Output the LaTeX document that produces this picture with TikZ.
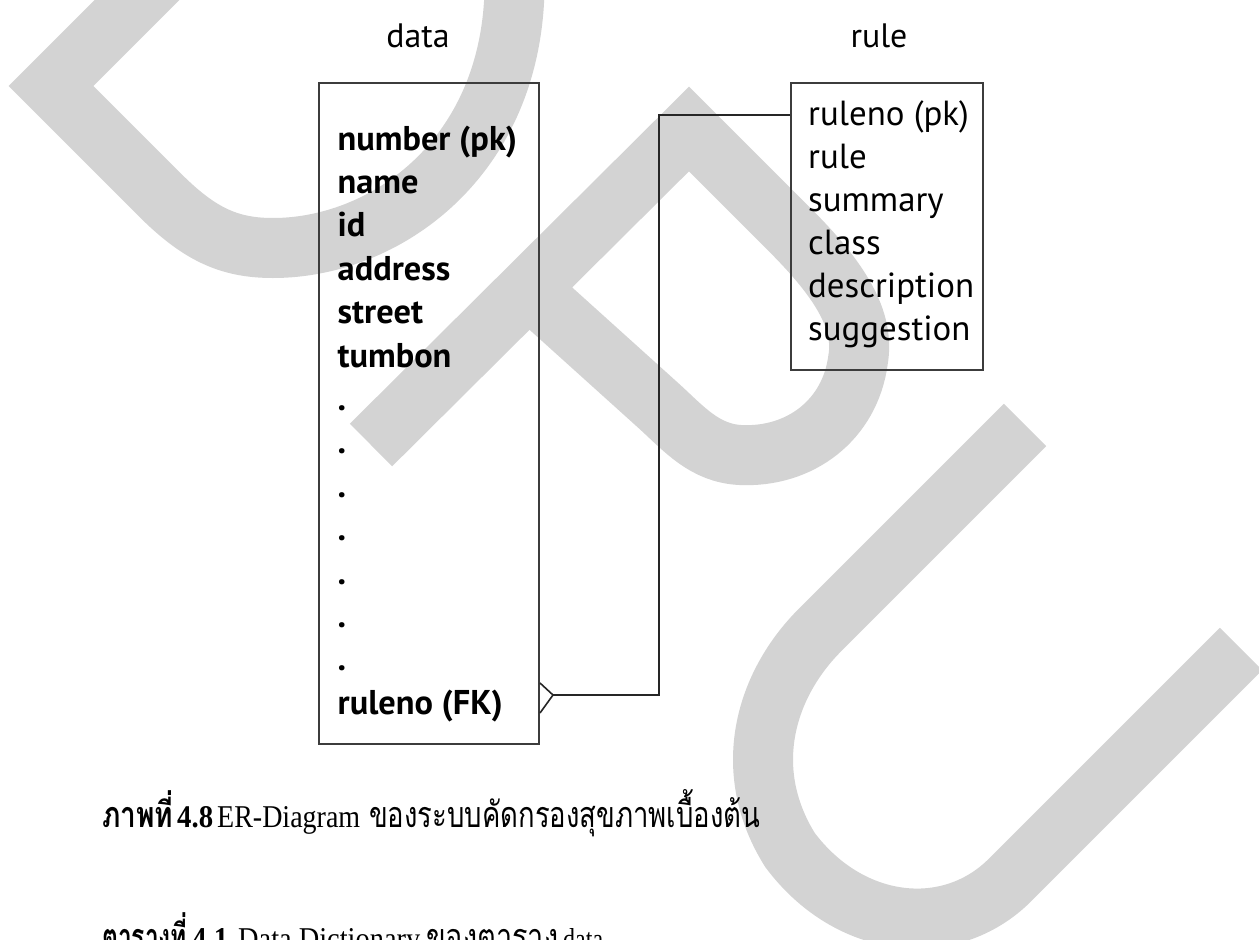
\documentclass[tikz,border=0pt]{standalone}
\usepackage{graphicx}
\usepackage{fontspec}
\setmainfont{Liberation Serif}
\newfontfamily\ersans{PT Sans}
\newfontfamily\thaifont[Script=Thai]{Loma}
\definecolor{wmgray}{RGB}{211,211,211}
\definecolor{boxgray}{RGB}{60,60,60}
\begin{document}
\begin{tikzpicture}[x=1bp,y=-1bp,
  wm/.style={line width=60bp, draw=wmgray, line join=miter, line cap=butt},
  ebox/.style={draw=boxgray, line width=2bp, inner sep=0pt, anchor=north west},
  conn/.style={draw=black!85, line width=1.6bp},
  attr/.style={anchor=base west, inner sep=0pt, font=\ersans\fontsize{34.5}{40}\selectfont\bfseries},
  rattr/.style={anchor=base west, inner sep=0pt, font=\ersans\fontsize{35}{42}\selectfont},
  etitle/.style={anchor=base, inner sep=0pt, font=\ersans\fontsize{34}{40}\selectfont},
  capt/.style={anchor=base west, inner sep=0pt, font=\fontsize{29}{34}\selectfont},
  thaic/.style={anchor=base west, inner sep=0pt, font=\thaifont\fontsize{36}{44}\selectfont}
]
\useasboundingbox (0,0) rectangle (1259,940);
\fill[white] (0,0) rectangle (1259,940);
\clip (0,0) rectangle (1259,940);

% watermark
\draw[wm] (177,-40) -- (51,86) -- (160,195) .. controls (200,235) and (230,248) .. (273,248)
  .. controls (390,248) and (525,150) .. (514,-40);
\draw[wm] (371,445) -- (689,129) -- (790,230) .. controls (840,280) and (865,320) .. (858,360)
  .. controls (850,420) and (800,458) .. (740,455) .. controls (705,453) and (685,430) .. (660,407) -- (528,288);
\draw[wm] (1025,425) -- (820,630) .. controls (765,685) and (740,770) .. (790,850)
  .. controls (850,930) and (950,940) .. (1010,880) -- (1241,649);

% entity boxes
\node[ebox, minimum width=220bp, minimum height=661bp] (databox) at (318,82) {};
\node[ebox, minimum width=192bp, minimum height=287bp] (rulebox) at (790,82) {};

\node[etitle] (datatitle) at (418,47) {data};
\node[etitle] (ruletitle) at (879,47) {rule};

% data attributes
\node[attr] (d0) at (337.5,150.0) {number (pk)};
\node[attr] (d1) at (337.5,193.4) {name};
\node[attr] (d2) at (337.5,236.8) {id};
\node[attr] (d3) at (337.5,280.2) {address};
\node[attr] (d4) at (337.5,323.6) {street};
\node[attr] (d5) at (337.5,367.0) {tumbon};
\node[attr] (d6) at (337.5,410.4) {.};
\node[attr] (d7) at (337.5,453.8) {.};
\node[attr] (d8) at (337.5,497.2) {.};
\node[attr] (d9) at (337.5,540.6) {.};
\node[attr] (d10) at (337.5,584.0) {.};
\node[attr] (d11) at (337.5,627.4) {.};
\node[attr] (d12) at (337.5,670.8) {.};
\node[attr] (d13) at (337.5,714.2) {ruleno (FK)};

% rule attributes
\node[rattr] (r0) at (808,125) {ruleno (pk)};
\node[rattr] (r1) at (808,168) {rule};
\node[rattr] (r2) at (808,211) {summary};
\node[rattr] (r3) at (808,254) {class};
\node[rattr] (r4) at (808,297) {description};
\node[rattr] (r5) at (808,340) {suggestion};

% relationship connector
\coordinate (bendA) at (659,115);
\coordinate (bendB) at (659,695);
\coordinate (tip) at (553,695);
\draw[conn] (rulebox.west |- bendA) -- (bendA) -- (bendB) -- (tip);
\draw[conn] (databox.east |- 0,683) -- (tip) -- (databox.east |- 0,713);

% captions
\node[thaic] (c1a) at (102,827) {\resizebox{71bp}{\height}{\bfseries ภาพที่}};
\node[capt] (c1b) at (177,827) {\resizebox{36bp}{21bp}{\bfseries 4.8}};
\node[capt] (c1c) at (217,827) {\resizebox{143bp}{21bp}{ER-Diagram}};
\node[thaic] (c1d) at (369,827) {\resizebox{391bp}{\height}{ของระบบคัดกรองสุขภาพเบื้องต้น}};

\node[thaic] (c2a) at (102,949) {\resizebox{85bp}{\height}{\bfseries ตารางที่}};
\node[capt] (c2b) at (192,949) {\resizebox{36bp}{21bp}{\bfseries 4.1}};
\node[capt] (c2c) at (238,949) {\resizebox{182bp}{21bp}{Data Dictionary}};
\node[thaic] (c2d) at (426,949) {\resizebox{132bp}{\height}{ของตาราง}};
\node[capt] (c2e) at (563,949) {\resizebox{40bp}{21bp}{data}};
\end{tikzpicture}
\end{document}
